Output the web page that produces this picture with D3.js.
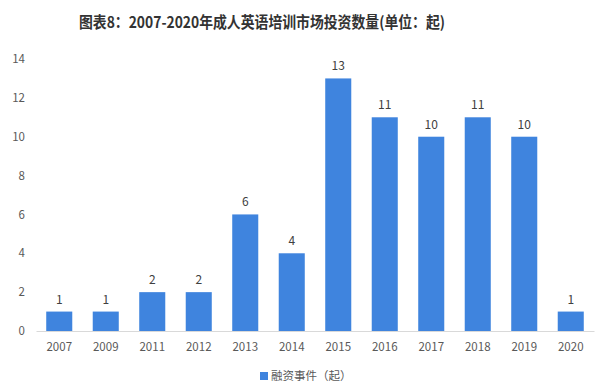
<!DOCTYPE html>
<html><head><meta charset="utf-8">
<script src="https://cdn.jsdelivr.net/npm/d3@7"></script>
<style>body{margin:0;background:#fff}svg{display:block}</style>
</head><body>
<script>
const title = "图表8：2007-2020年成人英语培训市场投资数量(单位：起)";
const categories = ["2007","2009","2011","2012","2013","2014","2015","2016","2017","2018","2019","2020"];
const values = [1,1,2,2,6,4,13,11,10,11,10,1];
const yTicks = [0,2,4,6,8,10,12,14];
const seriesName = "融资事件（起）";

const W = 600, H = 390;
const svg = d3.select("body").append("svg").attr("width", W).attr("height", H);
const font = "'Microsoft YaHei','Noto Sans CJK SC','Noto Sans',sans-serif";

const x = d3.scaleBand().domain(categories).range([36, 594]).paddingInner(0.44).paddingOuter(0.22);
const y = d3.scaleLinear().domain([0, 14]).range([331, 59]);

svg.append("text").attr("x", 262).attr("y", 28).attr("text-anchor", "middle").attr("font-family", font)
  .attr("font-size", 15.5).attr("font-weight", "bold").attr("fill", "#333")
  .attr("textLength", 366).attr("lengthAdjust", "spacingAndGlyphs").text(title);

// y axis labels
const ya = svg.append("g").attr("transform", "translate(25,0)")
  .call(d3.axisLeft(y).tickValues(yTicks).tickSize(0).tickPadding(0));
ya.select(".domain").remove();
ya.selectAll("text").attr("font-family", font).attr("font-size", 11.5).attr("fill", "#595959");

// bars
svg.append("g").selectAll("rect").data(values).join("rect")
  .attr("x", (d, i) => x(categories[i])).attr("width", x.bandwidth())
  .attr("y", d => y(d)).attr("height", d => y(0) - y(d)).attr("fill", "#3F84DE");

// x axis
const xa = svg.append("g").attr("transform", `translate(0,${y(0)})`)
  .call(d3.axisBottom(x).tickSize(0).tickPadding(12));
xa.select(".domain").attr("stroke", "#d9d9d9");
xa.selectAll("text").attr("font-family", font).attr("font-size", 11.5).attr("fill", "#595959");

// value labels
svg.append("g").selectAll("text").data(values).join("text")
  .attr("x", (d, i) => x(categories[i]) + x.bandwidth() / 2).attr("y", d => y(d) - 8)
  .attr("text-anchor", "middle").attr("font-family", font).attr("font-size", 12)
  .attr("fill", "#404040").text(d => d);

// legend
const lg = svg.append("g").attr("transform", "translate(260,376)");
lg.append("rect").attr("x", 0).attr("y", -4).attr("width", 8).attr("height", 8).attr("fill", "#3F84DE");
lg.append("text").attr("x", 11).attr("y", 4).attr("font-family", font).attr("font-size", 11.5)
  .attr("fill", "#595959").text(seriesName);
</script>
</body></html>
